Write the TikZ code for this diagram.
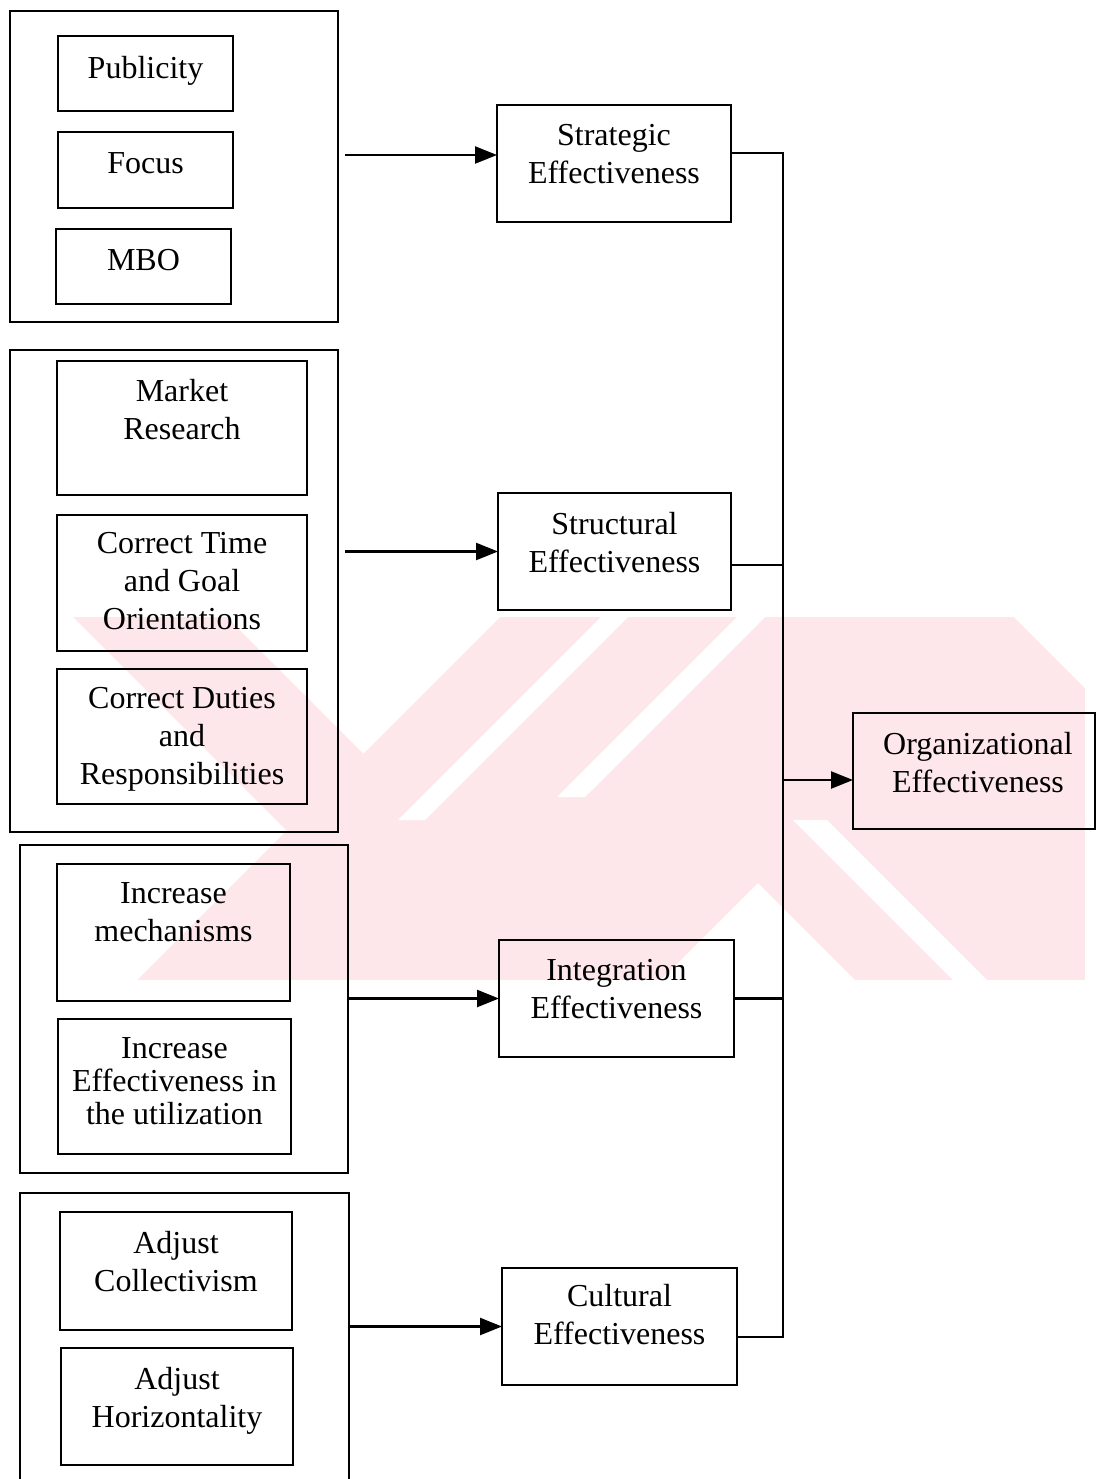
\documentclass[tikz,border=0pt]{standalone}
\usepackage{fontspec}
\setmainfont{Liberation Serif}
\usetikzlibrary{arrows.meta}
\definecolor{wmark}{RGB}{253,231,235}
\tikzset{
  ln/.style={line width=1.2pt,black},
  ar/.style={-{Triangle[length=11pt,width=8.5pt]},line width=1.2pt},
  box/.style={draw,line width=1.2pt,inner sep=0pt,outer sep=0pt},
  txt/.style={anchor=north,align=center,inner sep=0pt,font=\fontsize{16}{19}\selectfont}
}

\begin{document}
\begin{tikzpicture}[x=0.5pt,y=-0.5pt]
\useasboundingbox (0,0) rectangle (1096,1479);
\clip (0,0) rectangle (1096,1479);
% faint watermark behind the chart
\begin{scope}
\clip (60,617) rectangle (1085,980);
\fill[wmark] (60,617) rectangle (1085,980);
\fill[white] (60,617) -- (73,617) -- (286.5,830.5) -- (137,980) -- (60,980) -- cycle;
\fill[white] (227,617) -- (500,617) -- (363.5,753.5) -- cycle;
\fill[white] (601,617) -- (628,617) -- (425,820) -- (398,820) -- cycle;
\fill[white] (737,617) -- (765,617) -- (585,797) -- (557,797) -- cycle;
\fill[white] (1014,617) -- (1085,617) -- (1085,688) -- cycle;
\fill[white] (758,883) -- (855,980) -- (661,980) -- cycle;
\fill[white] (793,820) -- (827,820) -- (987,980) -- (953,980) -- cycle;
\end{scope}
% outer frames
\node[box,minimum width=164pt,minimum height=155.5pt] (g1) at (174,166.5) {};
\node[box,minimum width=164pt,minimum height=241pt] (g2) at (174,591) {};
\node[box,minimum width=164pt,minimum height=164pt] (g3) at (184,1009) {};
\node[box,minimum width=164.5pt,minimum height=163.5pt] (g4) at (184.5,1356.5) {};
% inner boxes
\node[box,minimum width=87.5pt,minimum height=37.5pt] (pub) at (145.5,73.5) {};
\node[box,minimum width=87.5pt,minimum height=38pt] (foc) at (145.5,170) {};
\node[box,minimum width=87.5pt,minimum height=37.5pt] (mbo) at (143.5,266.5) {};
\node[box,minimum width=125pt,minimum height=67pt] (mkt) at (182,428) {};
\node[box,minimum width=125pt,minimum height=68pt] (ctg) at (182,583) {};
\node[box,minimum width=125pt,minimum height=67.5pt] (cdr) at (182,736.5) {};
\node[box,minimum width=116.5pt,minimum height=68.5pt] (inc) at (173.5,932.5) {};
\node[box,minimum width=116.5pt,minimum height=67.5pt] (ieu) at (174.5,1086.5) {};
\node[box,minimum width=116pt,minimum height=59pt] (acl) at (176,1271) {};
\node[box,minimum width=116pt,minimum height=58.5pt] (ahz) at (177,1406.5) {};
% effectiveness boxes
\node[box,minimum width=117pt,minimum height=58.5pt] (se) at (614,163.5) {};
\node[box,minimum width=116.5pt,minimum height=58.5pt] (sf) at (614.5,551.5) {};
\node[box,minimum width=117.5pt,minimum height=58.5pt] (ie) at (616.5,998.5) {};
\node[box,minimum width=117.5pt,minimum height=58.5pt] (ce) at (619.5,1326.5) {};
\node[box,minimum width=121pt,minimum height=58pt] (oe) at (974,771) {};
% texts
\node[txt] (pub-t) at (145.5,56) {Publicity};
\node[txt] (foc-t) at (145.5,152) {Focus};
\node[txt] (mbo-t) at (143.5,249) {MBO};
\node[txt] (mkt-t) at (182,379) {Market\\Research};
\node[txt] (ctg-t) at (182,532) {Correct Time\\and Goal\\Orientations};
\node[txt] (cdr-t) at (182,687) {Correct Duties\\and\\Responsibilities};
\node[txt] (inc-t) at (173.5,882) {Increase\\mechanisms};
\node[txt,font=\fontsize{16}{16.5}\selectfont] (ieu-t) at (174.5,1037) {Increase\\Effectiveness in\\the utilization};
\node[txt] (acl-t) at (176,1231) {Adjust\\Collectivism};
\node[txt] (ahz-t) at (177,1367) {Adjust\\Horizontality};
\node[txt] (se-t) at (614,124) {Strategic\\Effectiveness};
\node[txt] (sf-t) at (614.5,512) {Structural\\Effectiveness};
\node[txt] (ie-t) at (616.5,959) {Integration\\Effectiveness};
\node[txt] (ce-t) at (619.5,1284) {Cultural\\Effectiveness};
\node[txt] (oe-t) at (978,732) {Organizational\\Effectiveness};
% arrows into the effectiveness boxes
\coordinate (a1) at (345,155);
\draw[ar] (a1) -- (a1 -| se.west);
\draw[ar] ([xshift=3.5pt]g2.east |- sf.west) -- (sf.west);
\draw[ar] (g3.east |- ie.west) -- (ie.west);
\draw[ar] (g4.east |- ce.west) -- (ce.west);
% collecting line
\coordinate (b1) at (783,153);
\coordinate (b2) at (783,565);
\coordinate (b4) at (783,1337);
\coordinate (bus) at (783,780);
\draw[ln] (b1 -| se.east) -- (b1) -- (b4) -- (b4 -| ce.east);
\draw[ln] (b2 -| sf.east) -- (b2);
\draw[ln] (ie.east) -- (ie.east -| b1);
\draw[ar] (bus) -- (bus -| oe.west);
\end{tikzpicture}
\end{document}
